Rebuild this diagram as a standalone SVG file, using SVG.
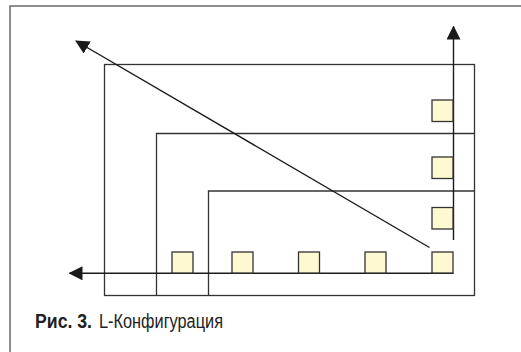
<svg xmlns="http://www.w3.org/2000/svg" width="521" height="352" viewBox="0 0 521 352">
  <defs>
    <marker id="head" viewBox="0 0 14 14" refX="13" refY="7" markerWidth="14" markerHeight="14" markerUnits="userSpaceOnUse" orient="auto">
      <path d="M0,0 L14,7 L0,14 Z" fill="#1a1a1a"/>
    </marker>
  </defs>
  <style>
    .frame { fill: none; stroke: #6a6a6a; stroke-width: 1.5; }
    .zone { fill: none; stroke: #333; stroke-width: 1.3; }
    .axis { fill: none; stroke: #1a1a1a; stroke-width: 1.4; marker-end: url(#head); }
    .cell { fill: #fff9d2; stroke: #333; stroke-width: 1.3; }
    .cap { font-family: "Liberation Sans", Arial, sans-serif; font-size: 20px; fill: #222; }
  </style>
  <rect x="0" y="0" width="521" height="352" fill="#ffffff"/>
  <path class="frame" d="M10,352 V6 H521"/>

  <g id="zones">
    <rect id="zone-outer" class="zone" x="104.5" y="64.5" width="370" height="231"/>
    <path id="zone-middle" class="zone" d="M156.5,295.5 V133.5 H474.5"/>
    <path id="zone-inner" class="zone" d="M208.5,295.5 V191 H474.5"/>
  </g>

  <g id="connectors">
    <line class="axis" x1="453.5" y1="240" x2="453.5" y2="26.5"/>
    <line class="axis" x1="453.5" y1="273.3" x2="69.5" y2="273.3"/>
    <line class="axis" x1="429.5" y1="247.5" x2="76" y2="41"/>
  </g>

  <g id="cells">
    <rect id="cell-b1" class="cell" x="172" y="252" width="21" height="21"/>
    <rect id="cell-b2" class="cell" x="232" y="252" width="21" height="21"/>
    <rect id="cell-b3" class="cell" x="298.5" y="252" width="21" height="21"/>
    <rect id="cell-b4" class="cell" x="365" y="252" width="21" height="21"/>
    <rect id="cell-b5" class="cell" x="432" y="252" width="21" height="21"/>
    <rect id="cell-r1" class="cell" x="432" y="207.5" width="21" height="21.5"/>
    <rect id="cell-r2" class="cell" x="432" y="157" width="21" height="21.5"/>
    <rect id="cell-r3" class="cell" x="432" y="100" width="21" height="21.5"/>
  </g>

  <g id="caption">
    <text class="cap" x="35" y="327.5" font-weight="bold" textLength="57" lengthAdjust="spacingAndGlyphs">Рис. 3.</text>
    <text class="cap" x="99" y="327.5" textLength="124" lengthAdjust="spacingAndGlyphs">L-Конфигурация</text>
  </g>
</svg>
